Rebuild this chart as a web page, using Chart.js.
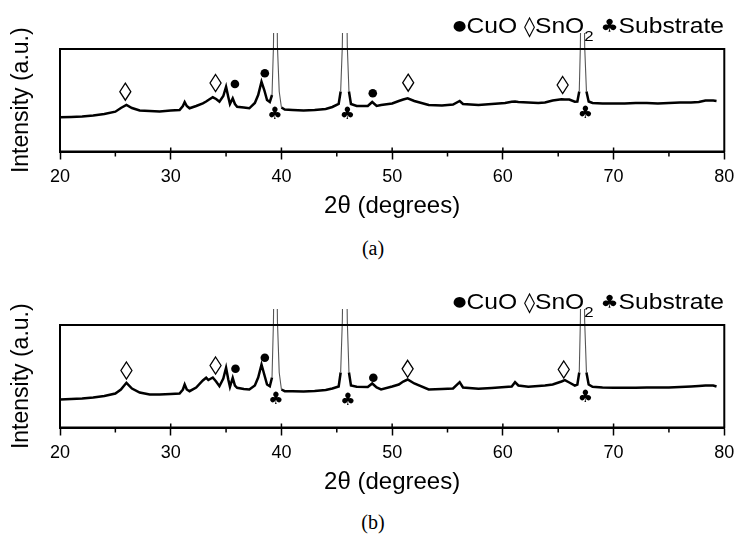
<!DOCTYPE html>
<html>
<head>
<meta charset="utf-8">
<script src="https://cdn.jsdelivr.net/npm/chart.js@4.4.1/dist/chart.umd.min.js"></script>
<style>
  body { margin: 0; background: #fff; width: 741px; height: 536px; overflow: hidden; }
  .panel { position: absolute; left: 0; width: 741px; height: 230px; }
  .cap { position: absolute; left: 0; width: 746px; text-align: center;
         font: 20px "Liberation Serif", serif; line-height: 24px; color: #000; }
</style>
</head>
<body>
<div class="panel" style="top:0"><canvas id="chartA"></canvas></div>
<div class="cap" style="top:236px">(a)</div>
<div class="panel" style="top:276px"><canvas id="chartB"></canvas></div>
<div class="cap" style="top:510px">(b)</div>
<script>
// 2-theta positions (degrees), shared by both patterns
const twoTheta = [
  20, 21, 22, 23, 24, 25, 25.5, 26, 26.5, 27.2, 28.1, 29, 30, 30.8, 31.1, 31.26, 31.45, 31.7,
  32.3, 32.9, 33.2, 33.4, 33.8, 34.1, 34.4, 34.75, 35.0, 35.2, 35.35, 35.6, 35.8, 36.0, 36.6,
  37.1, 37.6, 37.9, 38.2, 38.45, 38.7, 38.95, 39.15, 39.28, 39.46, 39.64, 39.8, 40.0, 40.3,
  41, 42, 43, 44, 44.6, 45.17, 45.35, 45.5, 45.73, 45.95, 46.1, 46.28, 46.8, 47.8, 48.2, 48.6,
  49, 50, 50.6, 51, 51.4, 52, 53.3, 54.5, 55.5, 56.1, 56.4, 57.8, 59, 60.2, 60.8, 61.1, 61.4,
  62.3, 63.2, 63.8, 64.5, 65.3, 65.6, 66, 66.5, 66.73, 66.9, 67.0, 67.2, 67.39, 67.55, 67.75,
  68.1, 69, 70, 71, 72, 73, 74, 75, 76, 77, 77.7, 78.3, 79, 79.3
];
// intensity (a.u.) for pattern (a)
const intensityA = [
  34.2, 34.5, 35, 36, 37.5, 39.8, 43.5, 46.5, 43.5, 41, 40.5, 40, 41, 41.5, 45.5, 49.5, 45.5, 43.2,
  45.5, 48.2, 50, 51.5, 54.2, 52.5, 49.8, 55.5, 64.8, 54.5, 47.5, 53.2, 47.5, 44.8, 44,
  43.2, 48.5, 56.5, 69.8, 61.5, 51.5, 49.5, 56.5, 105, 300, 105, 60, 44, 42,
  41.5, 41, 41.5, 42.5, 44.5, 47.5, 60, 105, 300, 105, 60, 47.5, 45.5, 45.5, 49.5, 45.5,
  46.5, 48, 50.5, 52, 53.2, 50.5, 46.5, 46, 47, 50.5, 47.5, 46.5, 47.5, 48.5, 49.8, 50, 49.5,
  49, 48.5, 49, 51, 52.2, 52, 52, 49.8, 50, 60, 105, 300, 105, 60, 50,
  48.5, 48, 48, 48, 48.5, 48.5, 48, 48.5, 49, 49, 49.5, 51, 51, 50.5
];
// intensity (a.u.) for pattern (b)
const intensityB = [
  28, 28.5, 29, 30, 31.5, 34, 38, 44.7, 39, 35, 33, 33, 33.5, 34, 38, 43, 38, 36.3,
  40, 47, 49.7, 47.5, 50, 46, 41.3, 49, 59.7, 48, 40.7, 49.7, 42, 39.7, 38.5,
  38, 42, 50, 63, 53, 43, 41.3, 50, 106, 300, 106, 55, 38, 36.3,
  36.3, 36, 36.5, 37.5, 39, 41, 55, 106, 300, 106, 55, 42, 40.7, 40.5, 44, 40,
  38, 41, 43, 46, 48, 44, 38, 38.5, 39, 45.3, 40, 38.7, 39.5, 40.5, 41, 45.3, 42,
  40.7, 41.5, 42, 43, 46, 47.3, 45, 42, 43, 55, 106, 300, 106, 55, 43,
  40.7, 40, 39.7, 39.7, 39.7, 40, 40, 40, 40.5, 41, 41.5, 42, 42, 41
];
// peak assignments [2theta, marker height]
const cuoA = [[35.8, 67.5], [38.5, 78.2], [48.25, 58.2]];
const sno2A = [[25.9, 59.8], [34.05, 68.5], [51.45, 68.8], [65.4, 66.5]];
const subA = [[39.4, 36.5], [45.95, 36.5], [67.45, 38.2]];
const cuoB = [[35.85, 58.7], [38.5, 69.7], [48.3, 49.7]];
const sno2B = [[26.0, 57], [34.05, 62], [51.4, 58.7], [65.5, 58]];
const subB = [[39.5, 28], [46.0, 27.3], [67.45, 29.7]];

const xTicks = [20, 30, 40, 50, 60, 70, 80];
const minorTicks = [25, 35, 45, 55, 65, 75];

const SANS = "'Liberation Sans', Arial, sans-serif";

function steep(ctx) {
  const dx = Math.abs(ctx.p1.x - ctx.p0.x), dy = Math.abs(ctx.p1.y - ctx.p0.y);
  return dy > 14 && dy > 3 * dx;
}

const decorPlugin = {
  id: 'decor',
  afterDraw(chart) {
    const { ctx, chartArea: a, scales: { x, y } } = chart;
    const marks = chart.options.plugins.decor;
    ctx.save();
    // frame
    ctx.strokeStyle = '#000';
    ctx.lineWidth = 2;
    ctx.strokeRect(a.left, a.top, a.right - a.left, a.bottom - a.top);
    // minor ticks and inner stubs of major ticks
    ctx.lineWidth = 1.5;
    ctx.beginPath();
    minorTicks.forEach(v => {
      const px = x.getPixelForValue(v);
      ctx.moveTo(px, a.bottom); ctx.lineTo(px, a.bottom + 5);
    });
    xTicks.slice(1, -1).forEach(v => {
      const px = x.getPixelForValue(v);
      ctx.moveTo(px, a.bottom); ctx.lineTo(px, a.bottom - 4);
    });
    ctx.stroke();
    // peak markers
    ctx.fillStyle = '#000';
    marks.cuo.forEach(([v, h]) => {
      ctx.beginPath();
      ctx.arc(x.getPixelForValue(v), y.getPixelForValue(h), 4.3, 0, Math.PI * 2);
      ctx.fill();
    });
    ctx.lineWidth = 1.3;
    marks.sno2.forEach(([v, h]) => {
      const px = x.getPixelForValue(v), py = y.getPixelForValue(h);
      ctx.beginPath();
      ctx.moveTo(px, py - 8.5); ctx.lineTo(px + 5.5, py);
      ctx.lineTo(px, py + 8.5); ctx.lineTo(px - 5.5, py);
      ctx.closePath();
      ctx.stroke();
    });
    ctx.font = "17px 'DejaVu Sans'";
    ctx.textAlign = 'center';
    ctx.textBaseline = 'middle';
    marks.sub.forEach(([v, h]) => {
      ctx.fillText('\u2663', x.getPixelForValue(v), y.getPixelForValue(h));
    });
    // legend line at top right
    const main = "22px " + SANS;
    const parts = [
      ['\u25CF', "14px 'DejaVu Sans'", -3], ['CuO ', main, 0],
      ['\u25CA', "20px 'DejaVu Sans'", 0], ['SnO', main, 0], ['2', "15px " + SANS, 8], [' ', main, 0],
      ['\u2663', "18px 'DejaVu Sans'", -1], ['Substrate', main, 0]
    ];
    const sx = 1.12;
    let total = 0;
    parts.forEach(p => { ctx.font = p[1]; total += ctx.measureText(p[0]).width; });
    ctx.translate(724 - total * sx, 33);
    ctx.scale(sx, 1);
    ctx.textAlign = 'left';
    ctx.textBaseline = 'alphabetic';
    let cx = 0;
    parts.forEach(p => {
      ctx.font = p[1];
      ctx.fillText(p[0], cx, p[2]);
      cx += ctx.measureText(p[0]).width;
    });
    ctx.restore();
  }
};

function makeChart(id, values, marks) {
  new Chart(document.getElementById(id), {
    type: 'line',
    data: {
      datasets: [{
        data: twoTheta.map((t, i) => ({ x: t, y: values[i] })),
        borderColor: '#000',
        borderWidth: 2.5,
        pointRadius: 0,
        tension: 0,
        clip: { left: 0, right: 0, top: 16, bottom: 0 },
        segment: {
          borderColor: c => steep(c) ? '#555' : '#000',
          borderWidth: c => steep(c) ? 1.1 : 2.5
        }
      }]
    },
    options: {
      responsive: true,
      maintainAspectRatio: false,
      animation: false,
      layout: { padding: { top: 49, right: 14.5, left: 0, bottom: 0 } },
      plugins: { legend: { display: false }, tooltip: { enabled: false }, decor: marks },
      scales: {
        x: {
          type: 'linear',
          min: 20,
          max: 80,
          afterFit: s => { s.height = 78.5; },
          afterBuildTicks: s => { s.ticks = xTicks.map(v => ({ value: v })); },
          ticks: { color: '#000', font: { family: SANS, size: 18 }, padding: 6.7, maxRotation: 0 },
          grid: { drawOnChartArea: false, tickLength: 8, tickColor: '#000', tickWidth: 1.5 },
          border: { display: true, color: '#000', width: 2 },
          title: { display: true, text: '2\u03B8 (degrees)', color: '#000',
                   font: { family: SANS, size: 24 }, padding: { top: 0, bottom: 9.6 } }
        },
        y: {
          min: 0,
          max: 102.5,
          afterFit: s => { s.width = 60; },
          ticks: { display: false },
          grid: { display: false },
          border: { display: true, color: '#000', width: 2 },
          title: { display: true, text: 'Intensity (a.u.)', color: '#000',
                   font: { family: SANS, size: 23 }, padding: { top: 8.2, bottom: 0 } }
        }
      }
    },
    plugins: [decorPlugin]
  });
}

makeChart('chartA', intensityA, { cuo: cuoA, sno2: sno2A, sub: subA });
makeChart('chartB', intensityB, { cuo: cuoB, sno2: sno2B, sub: subB });
</script>
</body>
</html>
